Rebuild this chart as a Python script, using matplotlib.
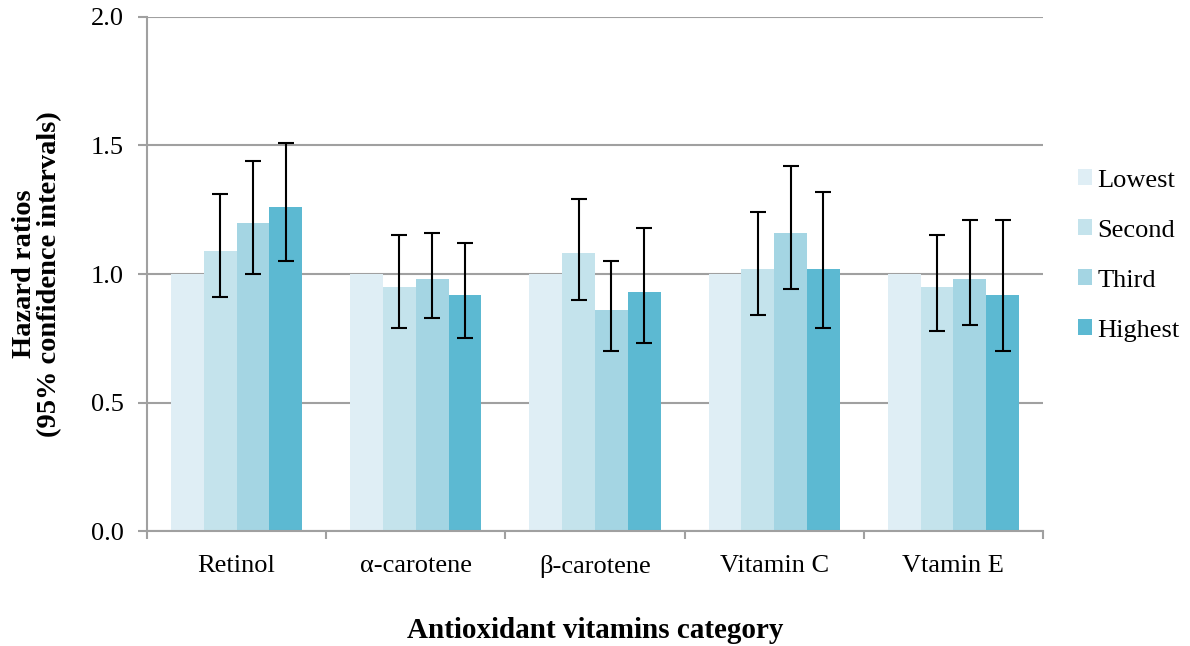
import numpy as np
import matplotlib.pyplot as plt

plt.rcParams['font.family'] = ['Liberation Serif', 'DejaVu Serif']

categories = ['Retinol', 'α-carotene', 'β-carotene', 'Vitamin C', 'Vtamin E']
series = ['Lowest', 'Second', 'Third', 'Highest']
colors = ['#DFEEF5', '#C4E3EC', '#A4D5E3', '#5CB9D2']

hr = {
    'Lowest':  [1.00, 1.00, 1.00, 1.00, 1.00],
    'Second':  [1.09, 0.95, 1.08, 1.02, 0.95],
    'Third':   [1.20, 0.98, 0.86, 1.16, 0.98],
    'Highest': [1.26, 0.92, 0.93, 1.02, 0.92],
}
ci_low = {
    'Second':  [0.91, 0.79, 0.90, 0.84, 0.78],
    'Third':   [1.00, 0.83, 0.70, 0.94, 0.80],
    'Highest': [1.05, 0.75, 0.73, 0.79, 0.70],
}
ci_high = {
    'Second':  [1.31, 1.15, 1.29, 1.24, 1.15],
    'Third':   [1.44, 1.16, 1.05, 1.42, 1.21],
    'Highest': [1.51, 1.12, 1.18, 1.32, 1.21],
}

fig = plt.figure(figsize=(11.9, 6.46), dpi=100)
ax = fig.add_axes([0.1235, 0.178, 0.753, 0.7957])

x = np.arange(len(categories))
w = 0.183
for i, s in enumerate(series):
    pos = x + (i - 1.5) * w
    vals = np.array(hr[s])
    ax.bar(pos, vals, w, color=colors[i], label=s, zorder=2)
    if s in ci_low:
        err = [vals - np.array(ci_low[s]), np.array(ci_high[s]) - vals]
        ax.errorbar(pos, vals, yerr=err, fmt='none', ecolor='black',
                    elinewidth=1.5, capsize=6, capthick=1.5, zorder=3)

ax.set_xlim(-0.5, len(categories) - 0.5)
ax.set_ylim(0, 2.0)
ax.set_yticks([0, 0.5, 1.0, 1.5, 2.0])
ax.set_yticklabels(['0.0', '0.5', '1.0', '1.5', '2.0'])
ax.yaxis.grid(True, color='#A0A0A0', linewidth=1.5, zorder=0)
ax.set_axisbelow(True)

ax.set_xticks(x)
ax.set_xticklabels(categories)
ax.set_xticks(np.arange(len(categories) + 1) - 0.5, minor=True)
ax.tick_params(axis='x', which='major', length=0, pad=17.5, labelsize=19)
ax.tick_params(axis='x', which='minor', length=6, width=1.5, color='#A0A0A0')
ax.tick_params(axis='y', length=6.5, width=1.5, color='#A0A0A0', labelsize=19, pad=10)

for side in ['top', 'right']:
    ax.spines[side].set_visible(False)
for side in ['left', 'bottom']:
    ax.spines[side].set_color('#A0A0A0')
    ax.spines[side].set_linewidth(1.5)

ax.set_ylabel('Hazard ratios\n(95% confidence intervals)', fontsize=20.5,
              fontweight='bold', labelpad=21, linespacing=1.0)
ax.set_xlabel('Antioxidant vitamins category', fontsize=21,
              fontweight='bold', labelpad=28)

ax.legend(loc='center left', bbox_to_anchor=(1.027, 0.536), frameon=False,
          fontsize=19, handlelength=0.55, handleheight=0.55, handletextpad=0.2,
          labelspacing=1.05, borderpad=0.4, borderaxespad=0)

fig.savefig('out.png', dpi=100)
